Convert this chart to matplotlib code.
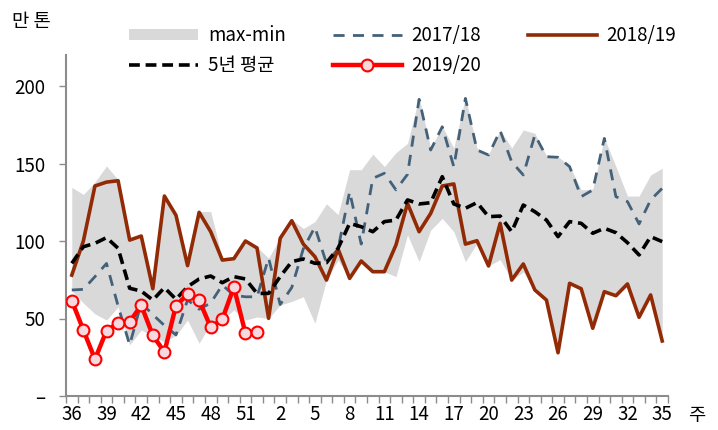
import matplotlib
matplotlib.use('Agg')
import matplotlib.pyplot as plt
from matplotlib.patches import Patch
from matplotlib.lines import Line2D
import numpy as np

# ---- data ----
weeks = list(range(36, 53)) + list(range(1, 36))

band_max = [134.6, 130, 138, 148.4, 139.5, 101, 104, 72, 129.5, 117, 87, 119, 119, 89, 89, 100, 96,
            89, 102, 114, 108, 112.5, 124, 117, 146, 146, 156, 148, 157, 163, 193, 160, 174, 160,
            193, 160, 156, 171.5, 160, 171.6, 169.5, 155, 154.5, 148.5, 133, 133.5, 166.5, 148,
            129, 129, 142.6, 147]
band_min = [68, 60, 53, 49, 57.5, 33, 42.6, 38.5, 35, 39, 49, 34, 47, 49, 55.5, 49, 51,
            50, 58.7, 61, 64, 46.9, 74.8, 87.7, 75.9, 87.1, 80.2, 80.2, 77, 104, 86.7, 107, 114.6,
            106, 86.7, 98.5, 83.9, 88, 74.8, 80, 68.4, 61.9, 27.9, 72.7, 69.2, 43.7, 67.3, 64.7,
            72.3, 50.8, 65.2, 35.5]
s1718 = [68.4, 68.8, 77, 85.5, 58, 33, 60, 52.5, 45.5, 39.4, 62, 56, 60, 71.6, 65, 64, 64,
         89, 59, 70, 95, 109, 85.6, 95, 131.8, 98, 140.4, 143.7, 133, 143, 191.4, 158.7, 173.7,
         147.9, 192, 158.7, 155.5, 171.2, 151, 142.6, 168.4, 154.4, 154, 148, 128.6, 132.9,
         166.2, 128.6, 125.4, 111, 126.5, 134]
s1819 = [78, 100, 135.5, 138, 138.9, 100.6, 103.2, 69.2, 129, 116.6, 84.1, 118.5, 106, 87.7,
         88.6, 100, 95.5, 50.1, 101.7, 113.1, 98, 89.9, 74.8, 94.8, 75.9, 87.1, 80.2, 80.2, 97.4,
         124.3, 106, 117.8, 135.5, 136.8, 98, 100.2, 83.9, 111.4, 74.8, 85.2, 68.4, 61.9, 27.9,
         72.7, 69.2, 43.7, 67.3, 64.7, 72.3, 50.8, 65.2, 35.5]
avg5 = [85.6, 96.3, 98.5, 102.2, 95.3, 69.5, 67.7, 61.9, 69.9, 62.4, 70.5, 75.5, 77.4, 73.1, 77,
        75.5, 66.2, 66.2, 77, 86.7, 88.4, 85.6, 86, 95.3, 111.4, 109.2, 106, 112.5, 113.5, 126.5,
        123.9, 124.7, 141.5, 123.9, 121.1, 124.8, 115.7, 116.1, 106, 123.2, 118.9, 113.5, 102.8,
        112.5, 111.4, 105, 108.2, 105.4, 98.9, 91, 102.8, 99.6]
s1920 = [61.5, 42.6, 23.7, 42.1, 47.1, 47.9, 58.5, 39.1, 28.4, 58.3, 65.6, 61.9, 44.3, 49.5,
         70.3, 40.4, 41.1]

ytick_vals = [0, 50, 100, 150, 200]
ytick_labels = ['–', '50', '100', '150', '200']

# ---- style ----
plt.rcParams['font.family'] = ['Liberation Sans Narrow', 'Noto Sans CJK KR', 'DejaVu Sans']
FS = 13.5
GRAY_AX = '#8c8c8c'
C_BAND = '#d9d9d9'
C_1718 = '#44617a'
C_1819 = '#922b05'
C_1920 = '#ff0000'

fig = plt.figure(figsize=(7.18, 4.30), dpi=100)
ax = fig.add_axes([66/718, 34/430, (668-66)/718, (396-55)/430])

x = np.arange(len(weeks))
x20 = np.arange(len(s1920))

ax.fill_between(x, band_min, band_max, color=C_BAND, linewidth=0, zorder=1)
ax.plot(x, s1718, color=C_1718, lw=2.0, dashes=(4, 3), zorder=2)
ax.plot(x, s1819, color=C_1819, lw=2.6, zorder=3)
ax.plot(x, avg5, color='black', lw=2.6, dashes=(3, 1.6), zorder=4)
ax.plot(x20, s1920, color=C_1920, lw=3.2, marker='o', markersize=8.5,
        markerfacecolor='#f6d9de', markeredgecolor=C_1920, markeredgewidth=1.5, zorder=5)

ax.set_xlim(-0.5, len(weeks) - 0.5)
ax.set_ylim(0, 220)

ax.set_xticks(x[::3])
ax.set_xticklabels([str(w) for w in weeks[::3]], fontsize=FS)
ax.set_xticks(np.arange(-0.5, len(weeks), 1), minor=True)
ax.tick_params(axis='x', which='major', length=0, pad=6)
ax.tick_params(axis='x', which='minor', length=5, color=GRAY_AX, width=1, direction='out')

ax.set_yticks(ytick_vals)
ax.set_yticklabels(ytick_labels, fontsize=FS)
ax.tick_params(axis='y', which='major', length=5, color=GRAY_AX, width=1, direction='out', pad=10)

for s in ['top', 'right']:
    ax.spines[s].set_visible(False)
for s in ['left', 'bottom']:
    ax.spines[s].set_color(GRAY_AX)
    ax.spines[s].set_linewidth(1.5)

fig.text(12/718, 1 - 22/430, '만 톤', fontsize=FS, ha='left', va='center')
fig.text(697/718, 1 - 415/430, '주', fontsize=FS, ha='center', va='center')

handles = [
    Patch(facecolor=C_BAND, edgecolor='none'),
    Line2D([], [], color='black', lw=2.6, dashes=(3, 1.6)),
    Line2D([], [], color=C_1718, lw=2.0, dashes=(4, 3)),
    Line2D([], [], color=C_1920, lw=3.2, marker='o', markersize=8.5,
           markerfacecolor='#f6d9de', markeredgecolor=C_1920, markeredgewidth=1.5),
    Line2D([], [], color=C_1819, lw=2.6),
]
labels = ['max-min', '5년 평균', '2017/18', '2019/20', '2018/19']
leg = fig.legend(handles, labels, ncol=3, loc='upper left',
                 bbox_to_anchor=(129/718, 1 - 25/430), frameon=False,
                 fontsize=FS, handlelength=3.7, handleheight=0.55, handletextpad=0.5,
                 columnspacing=2.5, labelspacing=0.5, borderpad=0, borderaxespad=0)

fig.savefig('out.png', dpi=100)
